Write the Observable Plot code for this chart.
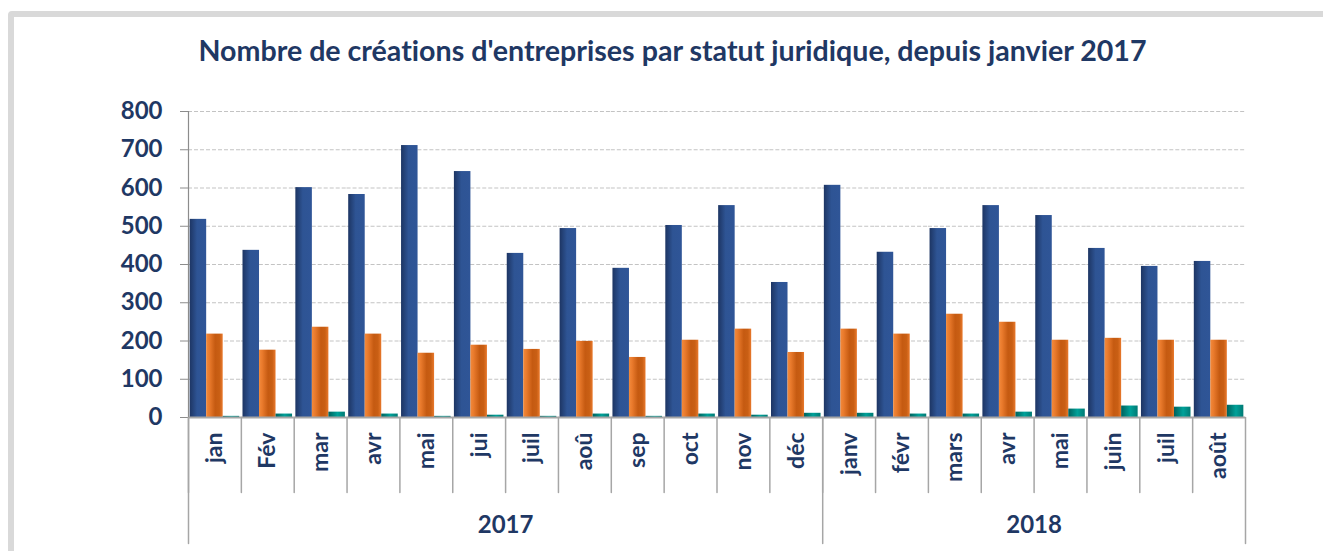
<!DOCTYPE html>
<html><head><meta charset="utf-8">
<script src="https://cdn.jsdelivr.net/npm/d3@7"></script>
<script src="https://cdn.jsdelivr.net/npm/@observablehq/plot@0.6"></script>
<style>
html,body{margin:0;padding:0;background:#fff;width:1323px;height:551px;overflow:hidden;position:relative;}
#frame{position:absolute;left:8px;top:11px;width:1400px;height:700px;border:6px solid #d9d9d9;border-radius:4px;box-sizing:border-box;}
#title{position:absolute;left:0;top:33px;width:1345px;text-align:center;font-family:Lato,sans-serif;font-weight:bold;font-size:28.6px;line-height:34px;color:#1f3864;white-space:nowrap;font-variant-ligatures:none;}
#chart{position:absolute;left:0;top:80px;}
#chart svg text{font-variant-ligatures:none;}
#defs{position:absolute;width:0;height:0;}
</style>
</head><body>
<div id="frame"></div>
<div id="title">Nombre de créations d'entreprises par statut juridique, depuis janvier 2017</div>
<svg id="defs" width="0" height="0"><defs>
<linearGradient id="gBlue" x1="0" x2="1" y1="0" y2="0">
<stop offset="0" stop-color="#1d3563"/><stop offset="0.45" stop-color="#2e5494"/><stop offset="1" stop-color="#2f5597"/>
</linearGradient>
<linearGradient id="gOrange" x1="0" x2="1" y1="0" y2="0">
<stop offset="0" stop-color="#f28a3c"/><stop offset="0.2" stop-color="#e97a2c"/><stop offset="0.55" stop-color="#c55a11"/><stop offset="0.8" stop-color="#c95f14"/><stop offset="1" stop-color="#e9792c"/>
</linearGradient>
<linearGradient id="gTeal" x1="0" x2="1" y1="0" y2="0">
<stop offset="0" stop-color="#00615c"/><stop offset="0.55" stop-color="#00a199"/><stop offset="1" stop-color="#007a74"/>
</linearGradient>
</defs></svg>
<div id="chart"></div>
<script>
const years = ["2017", "2018"];
const months2017 = ["jan","Fév","mar","avr","mai","jui","juil","aoû","sep","oct","nov","déc"];
const months2018 = ["janv","févr","mars","avr","mai","juin","juil","août"];
const seriesNames = ["Série 1", "Série 2", "Série 3"];
const serie1 = [518,437,601,583,711,643,429,494,390,502,554,353,607,432,494,554,528,442,395,408];
const serie2 = [218,176,236,218,168,189,178,199,157,202,231,170,231,218,270,249,202,207,202,202];
const serie3 = [3,9,14,9,3,6,3,9,3,9,6,11,11,9,9,14,22,30,27,32];
const yTicks = [0,100,200,300,400,500,600,700,800];

const cats = [
  ...months2017.map(m => ({key: years[0] + "-" + m, label: m, year: years[0]})),
  ...months2018.map(m => ({key: years[1] + "-" + m, label: m, year: years[1]}))
];
const keys = cats.map(c => c.key);
const values = [serie1, serie2, serie3];
const rows = [];
cats.forEach((c, i) => seriesNames.forEach((s, j) => rows.push({key: c.key, serie: s, value: values[j][i]})));

const W = 1323, H = 471, mL = 188, mR = 78, mT = 31, mB = 134;
const step = (W - mL - mR) / keys.length;
const navy = "#1f3864", axisGray = "#a6a6a6";

// year labels: placed at the boundary in the middle of each year's months
const yearLabels = years.map(y => {
  const idx = cats.map((c, i) => c.year === y ? i : -1).filter(i => i >= 0);
  return {year: y, key: keys[idx[0] + Math.floor(idx.length / 2)]};
});
const yearStarts = years.map(y => cats.find(c => c.year === y));
const lastCat = [cats[cats.length - 1]];
const tickShape = {draw(context, l) { context.moveTo(0, 0); context.lineTo(0, l); }};

const chart = Plot.plot({
  width: W, height: H,
  marginTop: mT, marginBottom: mB, marginLeft: mL, marginRight: mR,
  style: {fontFamily: "Lato, sans-serif", background: "transparent", overflow: "visible"},
  fx: {domain: keys, padding: 0, round: false, axis: null},
  x: {domain: seriesNames, paddingInner: 0, paddingOuter: 0.1, round: false, axis: null},
  y: {domain: [0, 800], axis: null},
  color: {domain: seriesNames, range: ["url(#gBlue)", "url(#gOrange)", "url(#gTeal)"]},
  marks: [
    Plot.gridY(yTicks, {stroke: "#c3c3c3", strokeOpacity: 1, strokeWidth: 1.2, strokeDasharray: "4,2"}),
    Plot.barY(rows, {fx: "key", x: "serie", y: "value", fill: "serie"}),
    Plot.ruleY([0], {stroke: axisGray, strokeWidth: 2}),
    Plot.frame({anchor: "left", facetAnchor: "left", stroke: "#8c8c8c", strokeWidth: 1.2}),
    Plot.axisY(yTicks, {label: null, tickSize: 8, tickPadding: 18, fontSize: 24, fontWeight: "bold", fill: navy, stroke: "#8c8c8c"}),
    // category separators below the axis
    Plot.vector(cats, {fx: "key", frameAnchor: "bottom-left", length: 75, anchor: "start", shape: tickShape, stroke: axisGray, strokeWidth: 1.5}),
    Plot.vector(yearStarts, {fx: "key", frameAnchor: "bottom-left", length: 126, anchor: "start", shape: tickShape, stroke: axisGray, strokeWidth: 1.5}),
    Plot.vector(lastCat, {fx: "key", frameAnchor: "bottom-right", length: 126, anchor: "start", shape: tickShape, stroke: axisGray, strokeWidth: 1.5}),
    // month labels
    Plot.text(cats, {fx: "key", text: "label", frameAnchor: "bottom", rotate: -90, textAnchor: "end", lineAnchor: "middle", dy: 15, fontSize: 23, fontWeight: "bold", fill: navy}),
    // year labels
    Plot.text(yearLabels, {fx: "key", text: "year", frameAnchor: "bottom-left", textAnchor: "middle", lineAnchor: "middle", dy: 108, fontSize: 24, fontWeight: "bold", fill: navy})
  ]
});
document.getElementById("chart").appendChild(chart);
</script>
</body></html>
